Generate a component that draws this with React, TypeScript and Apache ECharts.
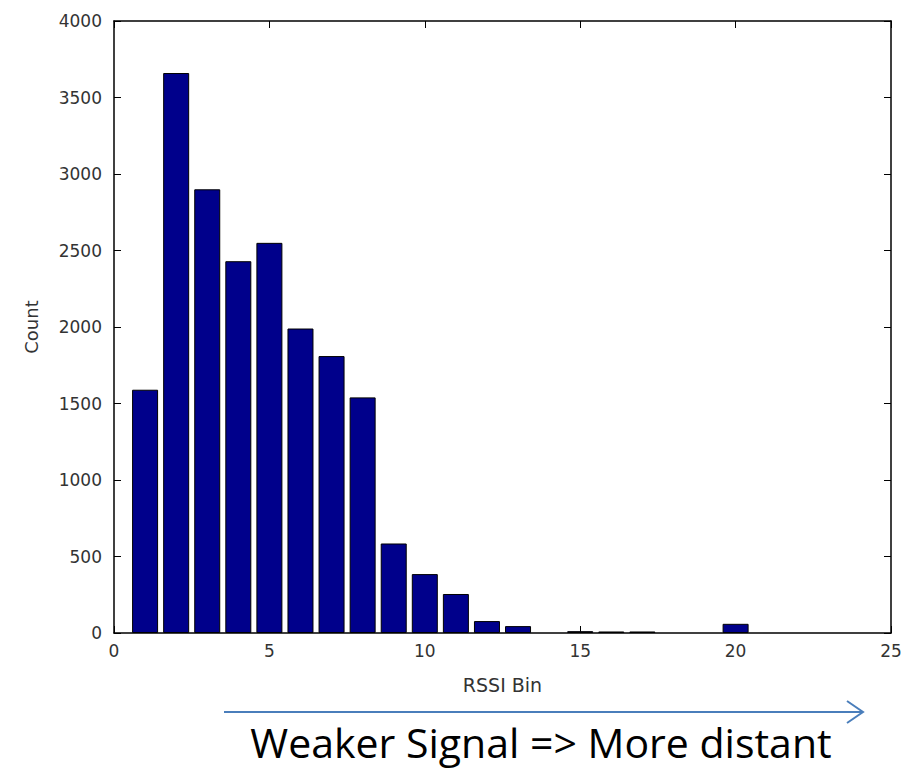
import React, { useEffect, useRef } from "react";
import * as echarts from "echarts";

const bins = [1, 2, 3, 4, 5, 6, 7, 8, 9, 10, 11, 12, 13, 14, 15, 16, 17, 18, 19, 20];
const counts = [1590, 3660, 2900, 2430, 2550, 1990, 1810, 1540, 585, 385, 255, 78, 45, 0, 12, 10, 10, 0, 0, 60];
const xTitle = "RSSI Bin";
const yTitle = "Count";
const caption = "Weaker Signal => More distant";

export default function App() {
  const ref = useRef<HTMLDivElement>(null);
  useEffect(() => {
    document.body.style.margin = "0";
    const chart = echarts.init(ref.current!, null, { renderer: "svg" });
    const tickFont = { fontFamily: "DejaVu Sans", fontSize: 17, color: "#333" };
    const axisLine = { show: true, onZero: false, lineStyle: { color: "#000", width: 1.5 } };
    const tick = { show: true, inside: true, length: 7, lineStyle: { color: "#000" } };
    chart.setOption({
      animation: false,
      backgroundColor: "#fff",
      grid: { left: 114, right: 25, top: 21, bottom: 136, containLabel: false },
      xAxis: [
        {
          type: "value", min: 0, max: 25, interval: 5, position: "bottom",
          axisLine, axisTick: tick,
          axisLabel: { ...tickFont, margin: 9 },
          splitLine: { show: false },
          name: xTitle, nameLocation: "middle", nameGap: 42,
          nameTextStyle: { fontFamily: "DejaVu Sans", fontSize: 19, color: "#333" },
        },
        {
          type: "value", min: 0, max: 25, interval: 5, position: "top",
          axisLine, axisTick: tick,
          axisLabel: { show: false }, splitLine: { show: false },
        },
      ],
      yAxis: [
        {
          type: "value", min: 0, max: 4000, interval: 500, position: "left",
          axisLine, axisTick: tick,
          axisLabel: { ...tickFont, margin: 12, formatter: (v: number) => String(v) },
          splitLine: { show: false },
          name: yTitle, nameLocation: "middle", nameGap: 74, nameRotate: 90,
          nameTextStyle: { fontFamily: "DejaVu Sans", fontSize: 18, color: "#333" },
        },
        {
          type: "value", min: 0, max: 4000, interval: 500, position: "right",
          axisLine, axisTick: tick,
          axisLabel: { show: false }, splitLine: { show: false },
        },
      ],
      series: [
        {
          type: "bar",
          xAxisIndex: 0,
          yAxisIndex: 0,
          barWidth: 26,
          data: bins.map((b, i) => (counts[i] === 0 ? [b, "-"] : [b, counts[i]])),
          itemStyle: { color: "#00008B", borderColor: "#000", borderWidth: 1 },
        },
      ],
      graphic: [
        { type: "line", shape: { x1: 224, y1: 712, x2: 862, y2: 712 }, style: { stroke: "#4A7EBB", lineWidth: 2 } },
        { type: "polyline", shape: { points: [[847, 701], [863, 712], [847, 723]] }, style: { stroke: "#4A7EBB", lineWidth: 2, fill: null } },
        {
          type: "text", x: 541, y: 742,
          style: { text: caption, font: "41px 'Open Sans'", fill: "#000", align: "center", verticalAlign: "middle" },
        },
      ],
    });
    return () => chart.dispose();
  }, []);
  return <div ref={ref} style={{ width: 916, height: 769 }} />;
}
